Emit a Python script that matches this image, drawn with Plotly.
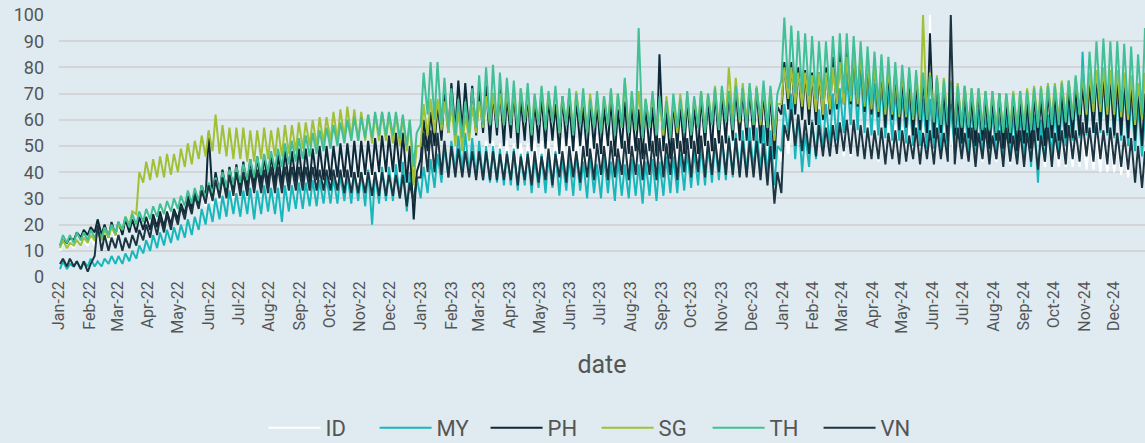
import pandas as pd
import plotly.graph_objects as go

# Weekly (Sunday low, Wednesday high) readings per country, Jan-2022 .. Dec-2024
ID = [
 10,13, 11,13, 11,14, 12,14, 12,15,
 12,15, 13,16, 14,18, 15,19,
 16,21, 17,22, 18,23, 19,24,
 20,25, 21,26, 21,27, 22,27,
 23,28, 24,30, 25,31, 26,32, 27,33,
 28,35, 29,36, 30,37, 30,38,
 31,39, 31,40, 32,40, 32,41, 32,41,
 32,41, 33,42, 33,42, 33,43,
 33,43, 34,43, 34,44, 34,44,
 35,45, 35,45, 35,46, 36,46, 36,46,
 36,47, 37,47, 37,48, 37,48,
 38,49, 38,49, 37,48, 33,45,
 38,50, 39,51, 40,51, 40,50, 40,51,
 40,50, 40,51, 41,51, 41,52,
 41,52, 41,52, 41,51, 41,52,
 40,51, 40,51, 41,51, 41,52, 41,52,
 41,52, 41,53, 42,53, 42,53,
 42,53, 42,54, 42,54, 42,54,
 42,54, 43,54, 43,55, 43,55, 43,55,
 43,55, 43,55, 43,56, 44,56,
 44,56, 44,56, 44,57, 44,57,
 44,57, 45,57, 45,58, 45,58, 45,58,
 45,58, 46,59, 46,59, 46,59,
 46,59, 46,60, 45,58, 40,50, 44,56,
 47,60, 47,61, 47,60, 47,60,
 47,60, 46,59, 47,60, 47,60,
 46,59, 46,59, 46,58, 45,58, 45,58,
 44,57, 45,58, 45,58, 45,57,
 45,58, 45,58, 45,59, 45,100,
 46,58, 46,58, 45,57, 45,57, 45,57,
 45,57, 44,57, 44,56, 44,56,
 44,56, 44,56, 43,55, 43,55,
 43,55, 43,55, 43,54, 42,54, 42,54,
 42,54, 42,54, 42,54, 42,54,
 41,53, 41,53, 40,53, 40,52,
 40,52, 39,51, 38,50, 38,48, 37,45,
]

MY = [
 3,6, 3,5, 4,6, 3,6, 4,7,
 4,6, 4,7, 5,8, 5,8,
 5,9, 6,10, 7,12, 9,14,
 10,16, 11,17, 12,18, 13,19,
 14,20, 15,22, 16,23, 18,26, 20,28,
 21,30, 22,31, 23,33, 24,32,
 23,33, 24,34, 22,33, 24,35, 25,34,
 24,34, 21,35, 25,35, 26,36,
 26,36, 27,37, 27,37, 28,38,
 28,38, 28,39, 29,39, 28,40, 29,40,
 27,41, 20,40, 28,42, 29,42,
 29,43, 30,44, 25,40, 28,38,
 30,42, 32,45, 34,47, 36,50, 38,52,
 40,54, 40,55, 39,53, 38,52,
 37,50, 36,50, 36,49, 35,48,
 35,49, 33,47, 35,48, 32,45, 34,47,
 32,46, 34,48, 31,45, 33,46,
 31,47, 33,44, 30,46, 32,43,
 30,46, 32,44, 29,45, 31,43, 30,45,
 31,43, 28,44, 31,45, 29,44,
 31,46, 32,46, 32,47, 33,48,
 34,48, 35,50, 35,50, 36,52, 37,53,
 37,54, 38,55, 39,56, 39,57,
 40,57, 40,58, 38,56, 35,50, 48,66,
 55,70, 45,62, 40,55, 42,60,
 45,64, 48,66, 50,70, 52,72,
 55,78, 58,82, 56,80, 55,76, 54,74,
 54,74, 53,72, 52,72, 52,70,
 51,70, 50,69, 50,68, 49,68,
 49,67, 48,66, 48,66, 47,65, 47,65,
 47,65, 46,64, 46,64, 46,64,
 45,64, 45,63, 45,63, 44,63,
 44,62, 42,62, 36,60, 44,62, 46,64,
 48,65, 50,66, 52,68, 53,86,
 54,74, 55,76, 55,75, 54,74,
 53,72, 52,72, 50,70, 48,66, 46,62,
]

PH = [
 12,14, 13,15, 14,17, 15,18, 16,19,
 17,22, 16,20, 15,21, 16,21,
 16,22, 17,22, 17,23, 18,23,
 18,24, 19,25, 19,25, 20,26,
 22,28, 24,31, 26,33, 28,35, 30,55,
 31,40, 32,41, 32,42, 33,43,
 33,44, 34,45, 34,46, 35,46, 35,47,
 35,47, 35,48, 36,48, 36,49,
 36,49, 36,49, 37,50, 37,50,
 37,50, 38,51, 38,51, 38,52, 38,52,
 39,52, 39,53, 40,54, 40,54,
 40,55, 40,55, 36,50, 22,40,
 45,60, 48,63, 50,66, 52,70, 55,74,
 56,75, 56,74, 55,73, 54,72,
 55,73, 51,70, 54,72, 50,69,
 53,71, 49,68, 52,70, 48,67, 51,69,
 49,68, 52,66, 47,69, 50,66,
 48,68, 50,65, 46,67, 49,66,
 47,65, 50,68, 46,64, 49,67, 47,66,
 48,64, 45,66, 48,65, 46,85,
 48,64, 45,67, 49,66, 47,68,
 49,66, 47,69, 50,68, 48,71, 51,70,
 51,71, 52,72, 52,72, 52,72,
 52,72, 51,71, 50,70, 45,65, 62,82,
 64,82, 62,80, 60,79, 58,78,
 58,78, 60,80, 62,84, 64,86,
 66,88, 66,88, 65,86, 63,84, 62,82,
 61,81, 57,78, 60,79, 56,76,
 57,77, 54,74, 56,76, 55,93,
 53,75, 55,72, 52,73, 54,71, 51,72,
 53,69, 50,71, 52,70, 49,68,
 52,70, 49,67, 51,69, 48,68,
 51,67, 49,69, 52,68, 50,71, 53,70,
 52,71, 53,72, 53,73, 54,74,
 55,76, 55,78, 56,78, 55,77,
 54,76, 54,75, 53,74, 52,72, 50,70,
]

SG = [
 11,14, 11,13, 12,14, 12,15, 13,16,
 14,17, 14,18, 15,19, 16,20,
 18,23, 20,25, 24,40, 36,44,
 37,45, 38,46, 38,47, 39,47,
 40,49, 42,51, 43,52, 45,54, 46,56,
 48,62, 47,58, 46,57, 45,57,
 45,57, 44,56, 44,56, 45,57, 45,56,
 46,57, 46,58, 47,58, 48,59,
 49,59, 50,60, 50,61, 51,61,
 52,63, 52,64, 53,65, 53,64, 52,63,
 52,62, 51,62, 52,63, 52,62,
 51,62, 50,61, 48,60, 35,50,
 50,66, 54,68, 55,68, 56,67, 55,66,
 50,64, 48,62, 52,65, 55,67,
 57,69, 58,70, 58,70, 58,71,
 58,71, 56,72, 59,70, 55,69, 58,72,
 57,70, 59,71, 55,69, 58,70,
 56,71, 58,69, 55,70, 57,68,
 55,69, 58,71, 56,70, 57,75, 55,69,
 56,71, 54,68, 57,70, 55,67,
 54,69, 56,67, 55,70, 57,69,
 55,68, 58,71, 56,70, 59,73, 57,72,
 60,80, 60,76, 59,74, 59,73,
 58,73, 58,72, 57,72, 52,66, 66,80,
 68,80, 66,78, 65,78, 64,77,
 63,78, 62,78, 64,80, 66,82,
 66,84, 67,86, 66,85, 65,83, 64,81,
 63,80, 62,80, 62,79, 61,78,
 61,78, 60,77, 60,100, 60,78,
 60,77, 59,76, 59,75, 58,74, 58,73,
 58,72, 57,72, 57,71, 57,71,
 56,70, 56,70, 57,71, 57,71,
 58,72, 58,73, 59,73, 59,74, 60,74,
 60,75, 61,75, 61,76, 62,77,
 62,78, 63,79, 63,80, 62,79,
 62,79, 61,78, 60,77, 58,74, 60,78,
]

TH = [
 12,16, 13,16, 13,17, 14,17, 14,18,
 15,18, 15,19, 16,20, 17,21,
 18,23, 19,24, 20,25, 21,26,
 22,27, 23,28, 24,29, 25,30,
 26,31, 27,33, 28,34, 29,35, 30,36,
 32,38, 33,40, 34,41, 35,42,
 36,43, 37,45, 38,46, 39,47, 40,48,
 41,49, 42,51, 43,52, 44,53,
 45,54, 46,55, 47,56, 48,57,
 49,58, 50,59, 51,60, 52,61, 52,61,
 53,62, 53,63, 54,63, 54,63,
 54,63, 53,62, 50,60, 42,55,
 58,78, 62,82, 60,82, 58,76, 56,72,
 54,68, 53,67, 55,72, 57,77,
 58,80, 58,81, 57,78, 58,76,
 58,75, 55,72, 59,74, 54,70, 58,73,
 56,71, 59,73, 55,69, 58,72,
 54,70, 58,72, 55,68, 57,71,
 55,69, 58,72, 54,70, 57,76, 55,71,
 56,95, 53,68, 57,71, 54,69,
 56,67, 53,70, 57,68, 55,71,
 54,69, 57,71, 55,70, 58,72, 56,73,
 59,71, 56,73, 60,72, 57,74,
 58,72, 60,75, 57,73, 55,70, 75,99,
 72,96, 70,94, 70,93, 69,92,
 68,90, 68,90, 69,92, 70,93,
 70,93, 69,92, 68,90, 67,88, 66,86,
 65,85, 64,84, 63,82, 62,81,
 62,80, 61,79, 60,78, 60,77,
 59,76, 58,75, 58,74, 57,73, 57,73,
 57,72, 56,72, 56,71, 56,71,
 55,70, 55,70, 55,70, 56,71,
 56,71, 56,72, 57,72, 57,73, 58,73,
 58,74, 59,75, 60,77, 62,80,
 64,86, 66,90, 66,91, 65,90,
 64,90, 63,89, 62,88, 60,85, 62,95,
]

VN = [
 5,7, 4,7, 4,6, 3,6, 2,5,
 8,20, 10,16, 10,15, 11,16,
 10,15, 11,16, 12,18, 14,20,
 15,22, 16,23, 17,24, 18,25,
 20,27, 22,29, 24,31, 26,33, 28,35,
 29,37, 30,38, 30,39, 31,40,
 31,40, 31,41, 32,41, 32,41, 32,42,
 32,42, 32,42, 33,42, 33,42,
 33,42, 33,42, 33,41, 33,41,
 33,41, 33,41, 32,41, 32,40, 32,40,
 32,40, 31,40, 31,40, 31,39,
 31,39, 30,39, 27,36, 28,38,
 38,55, 40,56, 40,55, 39,52, 38,50,
 38,49, 38,48, 38,48, 37,48,
 37,48, 37,48, 37,47, 37,47,
 37,48, 35,46, 37,47, 35,48, 36,46,
 37,49, 35,47, 38,48, 36,50,
 38,48, 36,50, 38,49, 37,51,
 39,50, 37,52, 38,49, 39,52, 37,50,
 39,53, 37,51, 39,52, 37,53,
 38,51, 39,53, 37,52, 40,53,
 38,52, 40,54, 38,52, 39,53, 40,54,
 39,53, 39,53, 38,52, 38,52,
 38,52, 37,51, 35,50, 28,40, 32,58,
 52,64, 50,62, 48,60, 47,59,
 46,58, 46,57, 46,58, 47,59,
 48,60, 47,60, 46,58, 45,57, 45,56,
 45,57, 43,55, 45,56, 43,56,
 44,54, 45,57, 43,55, 45,56,
 43,57, 45,55, 44,100, 43,57, 45,55,
 44,57, 42,55, 45,57, 43,54,
 45,56, 42,57, 44,54, 43,56,
 42,55, 44,56, 41,54, 44,57, 42,55,
 45,56, 43,58, 45,56, 44,59,
 46,57, 44,59, 45,56, 43,57,
 43,55, 42,54, 41,53, 36,50, 34,48,
]

COUNTRIES = ["ID", "MY", "PH", "SG", "TH", "VN"]
SERIES = {"ID": ID, "MY": MY, "PH": PH, "SG": SG, "TH": TH, "VN": VN}
COLORS = {"ID": "#ffffff", "MY": "#19b7b9", "PH": "#0d2837",
          "SG": "#a2c037", "TH": "#42bf95", "VN": "#1d3541"}

# x positions: Sunday / Wednesday of each week
sundays = pd.date_range("2022-01-02", periods=157, freq="7D")
dates = []
for s in sundays:
    dates.append(s)
    dates.append(s + pd.Timedelta(days=3))

for k, v in SERIES.items():
    assert len(v) == len(dates), (k, len(v))

fig = go.Figure()
for c in COUNTRIES:
    fig.add_trace(go.Scatter(x=dates, y=SERIES[c], mode="lines", name=c,
                             line=dict(color=COLORS[c], width=2)))

BG = "#dfebf1"
fig.update_layout(
    width=1145, height=443,
    paper_bgcolor=BG, plot_bgcolor=BG,
    font=dict(family="Roboto", color="#555555"),
    margin=dict(l=59, r=0, t=15, b=166, autoexpand=False),
    showlegend=True,
    legend=dict(orientation="h", x=0.495, xanchor="center",
                yref="container", y=0.034, yanchor="middle",
                font=dict(size=22, color="#555555"), bgcolor="rgba(0,0,0,0)",
                itemwidth=52, entrywidth=44),
    xaxis=dict(type="date", range=["2022-01-01", "2025-01-01"],
               tick0="2022-01-01", dtick="M1", tickformat="%b-%y", tickangle=-90,
               tickfont=dict(size=16, color="#555555"), showgrid=False,
               zeroline=False, showline=False, ticks="", automargin=False,
               title=dict(text="date", font=dict(size=25, color="#555555"), standoff=22)),
    yaxis=dict(range=[0, 100], dtick=10, tick0=0, showgrid=True,
               gridcolor="#d3d6d8", gridwidth=2, zeroline=False, showline=False,
               ticks="", automargin=False,
               tickfont=dict(size=18, color="#555555"), ticklabelstandoff=14),
)

fig.write_html("out.html", post_script="document.body.style.margin='0';",
               config={"displayModeBar": False})
